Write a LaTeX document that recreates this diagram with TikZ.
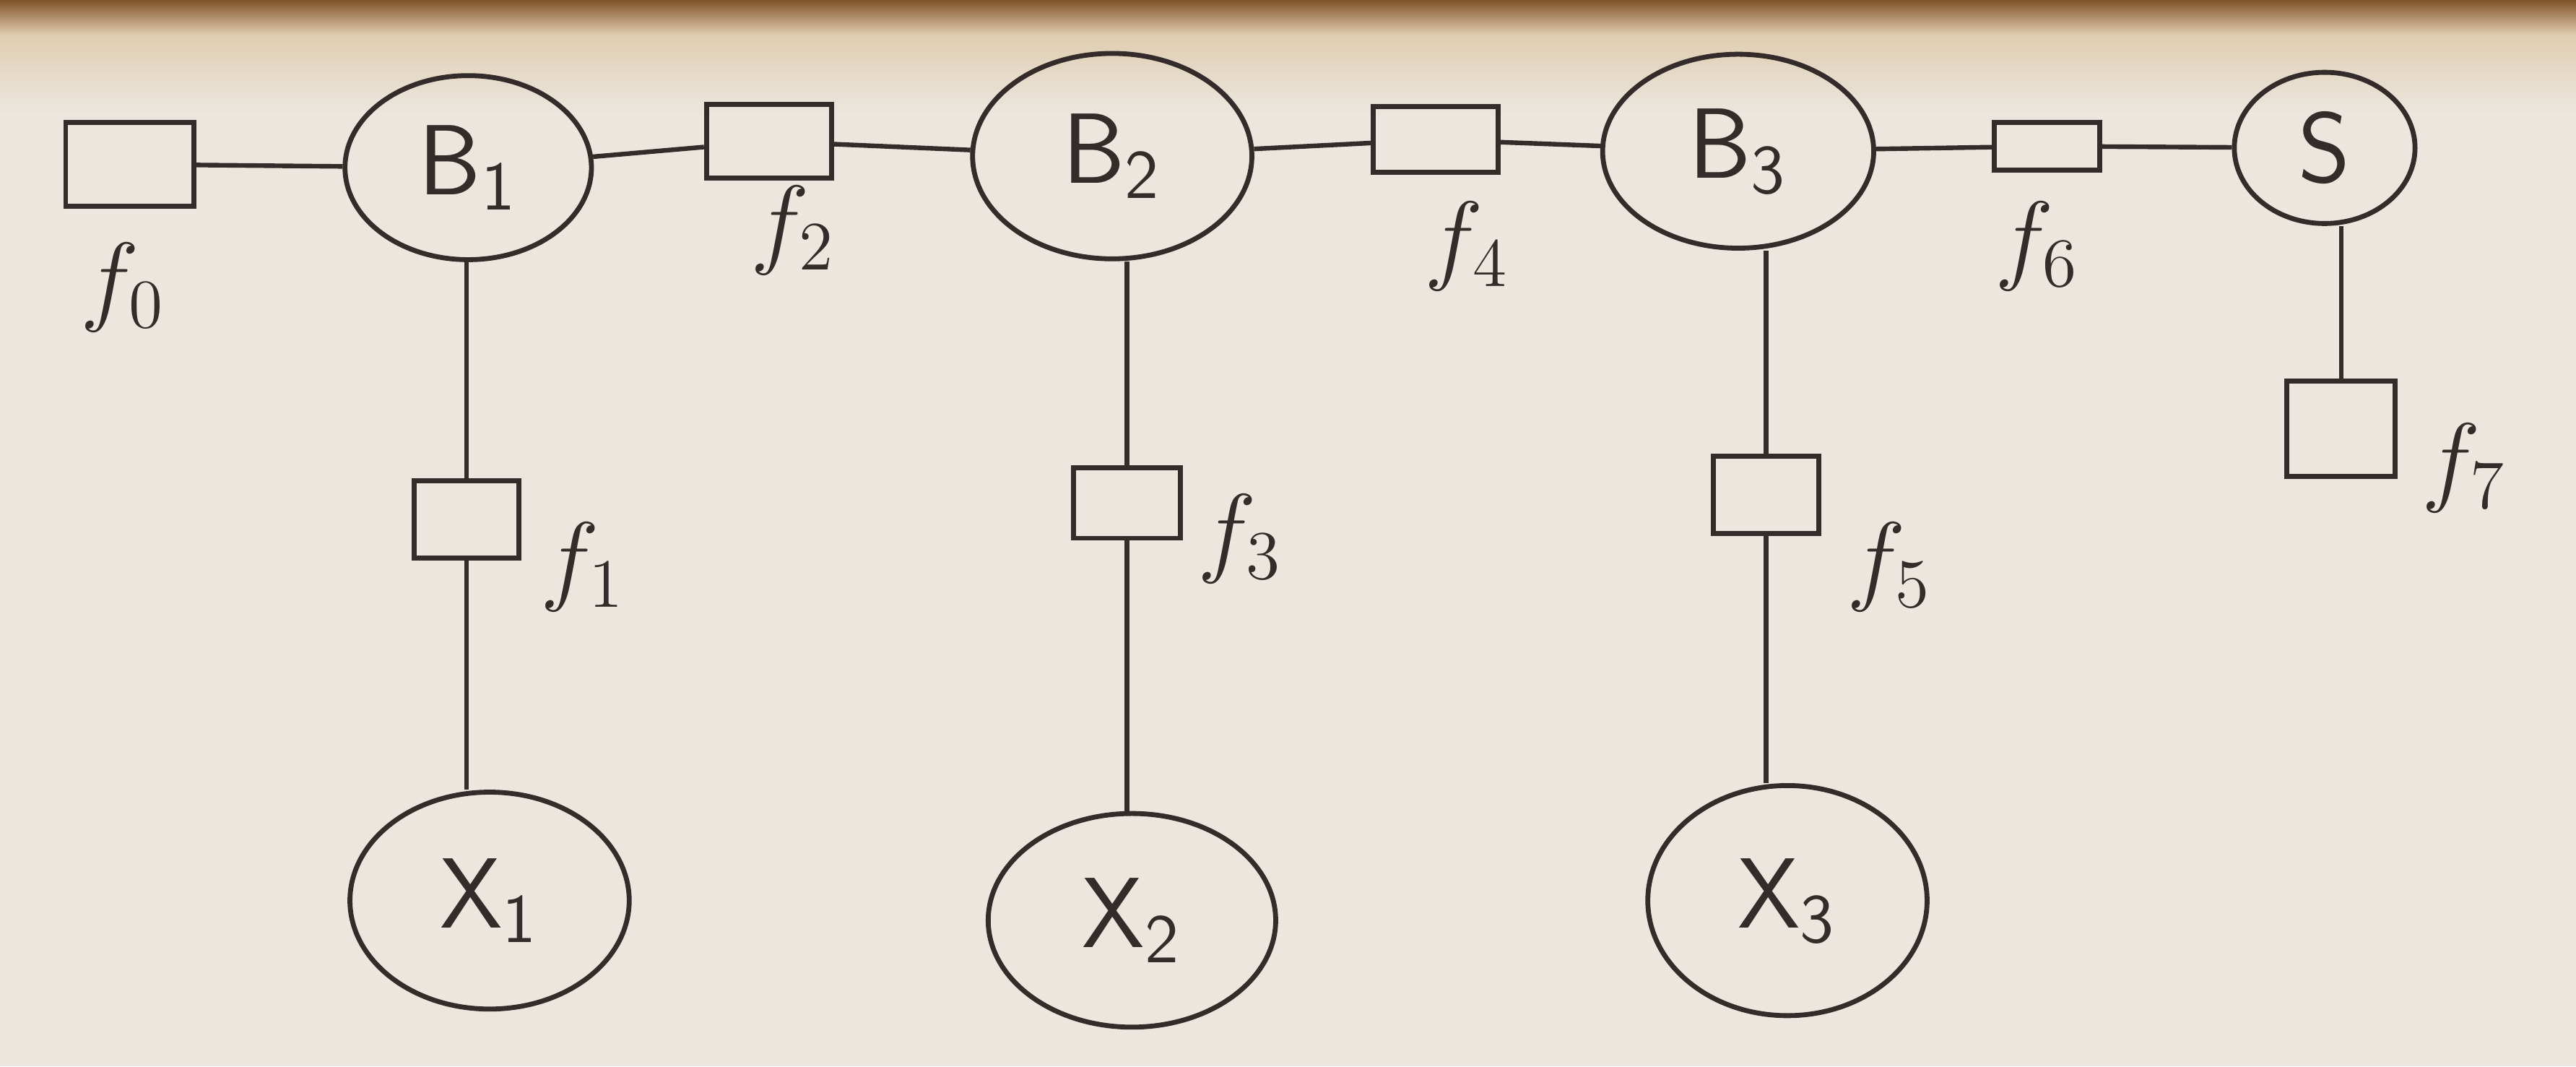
\documentclass[tikz,border=0pt]{standalone}
\usetikzlibrary{shapes.geometric}
\definecolor{pen}{RGB}{52,44,42}
\definecolor{paper}{RGB}{235,231,223}
\definecolor{papertan}{RGB}{224,204,176}
\definecolor{paperdark}{RGB}{128,82,40}
\tikzset{
  var/.style={draw=pen,ellipse,line width=0.85pt,inner sep=0pt,text=pen,font=\LARGE},
  fac/.style={draw=pen,rectangle,line width=0.85pt,inner sep=0pt},
  flab/.style={text=pen,font=\LARGE},
  edge/.style={draw=pen,line width=0.8pt}
}
\newcommand{\vname}[2]{$\mathsf{#1}_{\mathsf{#2}}$}

\begin{document}
\begin{tikzpicture}
  % paper
  \fill[paper] (0,0) rectangle (15.68,-6.49);
  \shade[top color=papertan,bottom color=paper] (0,-0.20) rectangle (15.68,-0.70);
  \shade[top color=paperdark,bottom color=papertan] (0,0) rectangle (15.68,-0.21);
  \useasboundingbox (0,0) rectangle (15.68,-6.49);

  % top chain
  \node[fac,minimum width=0.78cm,minimum height=0.51cm] (f0) at (0.79,-1.00) {};
  \node[var,minimum width=1.50cm,minimum height=1.12cm] (B1) at (2.85,-1.02) {\vname{B}{1}};
  \node[fac,minimum width=0.76cm,minimum height=0.45cm] (f2) at (4.68,-0.86) {};
  \node[var,minimum width=1.70cm,minimum height=1.25cm] (B2) at (6.77,-0.95) {\vname{B}{2}};
  \node[fac,minimum width=0.76cm,minimum height=0.40cm] (f4) at (8.74,-0.85) {};
  \node[var,minimum width=1.65cm,minimum height=1.18cm] (B3) at (10.58,-0.92) {\vname{B}{3}};
  \node[fac,minimum width=0.64cm,minimum height=0.29cm] (f6) at (12.46,-0.89) {};
  \node[var,minimum width=1.10cm,minimum height=0.92cm] (S) at (14.15,-0.90) {$\mathsf{S}$};

  % lower factors and variables
  \node[fac,minimum width=0.64cm,minimum height=0.47cm] (f1) at (2.84,-3.16) {};
  \node[fac,minimum width=0.65cm,minimum height=0.43cm] (f3) at (6.86,-3.06) {};
  \node[fac,minimum width=0.64cm,minimum height=0.47cm] (f5) at (10.75,-3.01) {};
  \node[fac,minimum width=0.66cm,minimum height=0.58cm] (f7) at (14.25,-2.61) {};
  \node[var,minimum width=1.70cm,minimum height=1.32cm] (X1) at (2.98,-5.48) {\vname{X}{1}};
  \node[var,minimum width=1.75cm,minimum height=1.30cm] (X2) at (6.89,-5.60) {\vname{X}{2}};
  \node[var,minimum width=1.70cm,minimum height=1.40cm] (X3) at (10.88,-5.48) {\vname{X}{3}};

  % factor labels
  \node[flab] (l0) at (0.75,-1.75) {$f_0$};
  \node[flab] (l1) at (3.55,-3.45) {$f_1$};
  \node[flab] (l2) at (4.83,-1.40) {$f_2$};
  \node[flab] (l3) at (7.55,-3.28) {$f_3$};
  \node[flab] (l4) at (8.93,-1.50) {$f_4$};
  \node[flab] (l5) at (11.50,-3.45) {$f_5$};
  \node[flab] (l6) at (12.40,-1.50) {$f_6$};
  \node[flab] (l7) at (15.00,-2.85) {$f_7$};

  % chain edges
  \foreach \a/\b in {f0/B1,B1/f2,f2/B2,B2/f4,f4/B3,B3/f6,f6/S}
    \draw[edge] (\a) -- (\b);
  % vertical edges
  \foreach \v/\f/\x in {B1/f1/X1,B2/f3/X2,B3/f5/X3} {
    \draw[edge] (\f.north |- \v.south) -- (\f.north);
    \draw[edge] (\f.south) -- (\f.south |- \x.north);
  }
  \draw[edge] (f7.north |- S.south) -- (f7.north);
\end{tikzpicture}
\end{document}
